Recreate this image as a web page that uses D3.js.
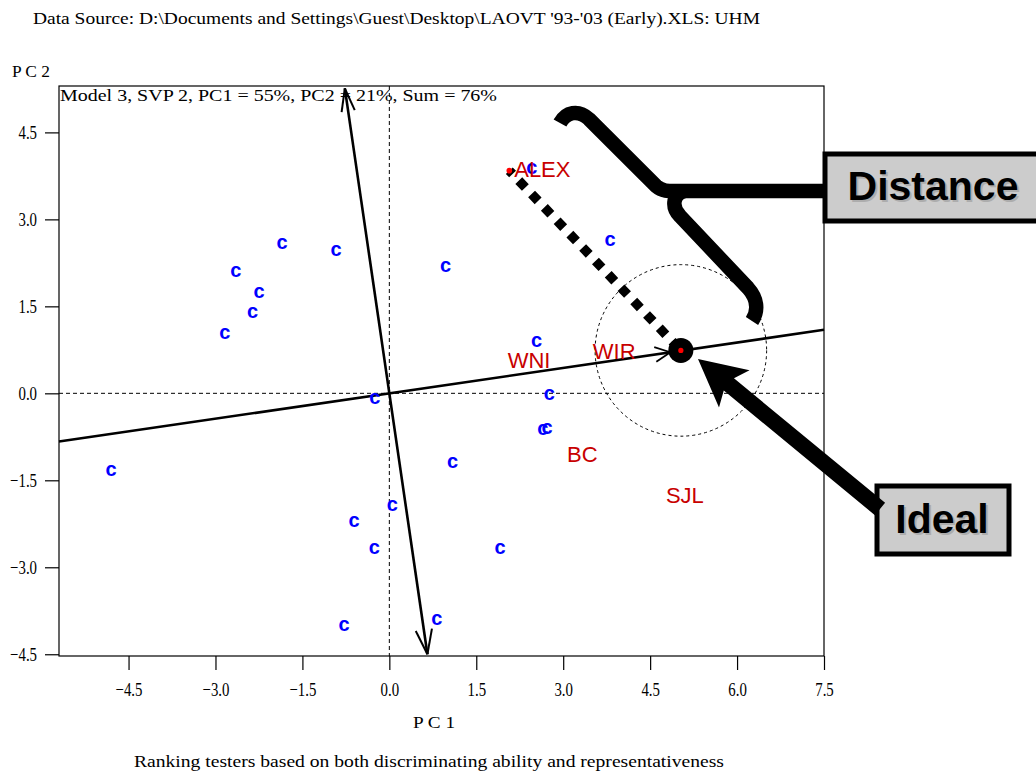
<!DOCTYPE html>
<html><head><meta charset="utf-8">
<script src="https://cdn.jsdelivr.net/npm/d3@7"></script>
<style>body{margin:0;background:#fff} svg{display:block}</style>
</head><body>
<svg id="chart" width="1036" height="774"></svg>
<script>
// ---------- data ----------
const xTicks = [-4.5, -3.0, -1.5, 0.0, 1.5, 3.0, 4.5, 6.0, 7.5];
const yTicks = [-4.5, -3.0, -1.5, 0.0, 1.5, 3.0, 4.5];
const cultivarX = [-1.85, -0.92, -2.65, -2.25, -2.36, -2.84, -0.25, 2.46, 3.81, 0.97, 2.54, 2.76, 2.65, 2.72, -4.80, 0.05, -0.61, -0.26, -0.78, 0.82, 1.09, 1.91];
const cultivarY = [2.59, 2.46, 2.10, 1.74, 1.40, 1.03, -0.09, 3.88, 2.64, 2.18, 0.89, -0.03, -0.63, -0.60, -1.33, -1.93, -2.21, -2.67, -4.01, -3.91, -1.20, -2.67];
const testerNames = ["ALEX", "WNI", "WIR", "BC", "SJL"];
const testerX = [2.64, 2.41, 3.88, 3.33, 5.10];
const testerY = [3.87, 0.57, 0.72, -1.05, -1.75];
const alexPoint = [2.07, 3.84];
const idealPoint = [5.03, 0.74];
const aecSlope = 0.146;          // average-environment axis slope (PC2/PC1)
const aecArrowX = 4.85;          // tip of AEC arrow (PC1)
const perpTopY = 5.26, perpBottomY = -4.5;
const circleRadius = 1.48;
const titleText = "Data Source: D:\\Documents and Settings\\Guest\\Desktop\\LAOVT '93-'03 (Early).XLS: UHM";
const modelText = "Model 3, SVP 2, PC1 = 55%, PC2 = 21%, Sum = 76%";
const captionText = "Ranking testers based on both discriminating ability and representativeness";
const xLabel = "P C 1", yLabel = "P C 2";

// ---------- layout ----------
const svg = d3.select("#chart");
const L = 59, R = 824, T = 86, B = 656;
const x = d3.scaleLinear().domain([-5.7, 7.5]).range([L, R]);
const y = d3.scaleLinear().domain([-4.53, 5.3]).range([B, T]);
const serif = "'Liberation Serif','Times New Roman',serif";
const sans = "'Liberation Sans',Arial,sans-serif";

function condense(sel, f) {
  sel.each(function () {
    const w = this.getComputedTextLength();
    this.setAttribute("textLength", w * f);
    this.setAttribute("lengthAdjust", "spacingAndGlyphs");
  });
}
function fitText(sel, w) {
  sel.attr("textLength", w).attr("lengthAdjust", "spacingAndGlyphs");
}

// title texts
svg.append("text").attr("x", 33).attr("y", 24).attr("font-family", serif).attr("font-size", 17)
  .text(titleText).call(fitText, 727);
svg.append("text").attr("x", 12).attr("y", 77).attr("font-family", serif).attr("font-size", 17)
  .text(yLabel).call(fitText, 38);
svg.append("text").attr("x", 434).attr("y", 728).attr("text-anchor", "middle").attr("font-family", serif).attr("font-size", 17)
  .text(xLabel).call(fitText, 42);
svg.append("text").attr("x", 429).attr("y", 767).attr("text-anchor", "middle").attr("font-family", serif).attr("font-size", 17)
  .text(captionText).call(fitText, 590);

// axes
const gx = svg.append("g").attr("transform", `translate(0,${B})`)
  .call(d3.axisBottom(x).tickValues(xTicks).tickFormat(d3.format(".1f")).tickSize(14).tickPadding(10));
const gy = svg.append("g").attr("transform", `translate(${L},0)`)
  .call(d3.axisLeft(y).tickValues(yTicks).tickFormat(d3.format(".1f")).tickSize(14).tickPadding(8));
[gx, gy].forEach(g => {
  g.select(".domain").remove();
  g.selectAll("line").attr("stroke", "#000").attr("stroke-width", 1.2);
  g.selectAll("text").attr("font-family", serif).attr("font-size", 19).attr("fill", "#000");
});
gx.selectAll("text").attr("dy", "0.85em");
gy.selectAll("text").attr("dy", "0.33em");
condense(gx.selectAll("text"), 0.78);
condense(gy.selectAll("text"), 0.78);

// frame
svg.append("rect").attr("x", L).attr("y", T).attr("width", R - L).attr("height", B - T)
  .attr("fill", "none").attr("stroke", "#000").attr("stroke-width", 1.2);

svg.append("text").attr("x", L + 1).attr("y", 101).attr("font-family", serif).attr("font-size", 17)
  .text(modelText).call(fitText, 437);

// dashed reference lines
svg.append("line").attr("x1", L).attr("x2", R).attr("y1", y(0)).attr("y2", y(0))
  .attr("stroke", "#000").attr("stroke-width", 1).attr("stroke-dasharray", "4,3");
svg.append("line").attr("x1", x(0)).attr("x2", x(0)).attr("y1", T).attr("y2", B)
  .attr("stroke", "#000").attr("stroke-width", 1).attr("stroke-dasharray", "4,3");

// concentric circle around ideal
svg.append("circle").attr("cx", x(idealPoint[0])).attr("cy", y(idealPoint[1]))
  .attr("r", x(idealPoint[0] + circleRadius) - x(idealPoint[0]))
  .attr("fill", "none").attr("stroke", "#000").attr("stroke-width", 1).attr("stroke-dasharray", "3,3");

// AEC abscissa
const x0 = x.domain()[0], x1 = x.domain()[1];
svg.append("line").attr("x1", x(x0)).attr("y1", y(x0 * aecSlope)).attr("x2", x(x1)).attr("y2", y(x1 * aecSlope))
  .attr("stroke", "#000").attr("stroke-width", 2.6);
// AEC ordinate
svg.append("line").attr("x1", x(-aecSlope * perpTopY)).attr("y1", y(perpTopY))
  .attr("x2", x(-aecSlope * perpBottomY)).attr("y2", y(perpBottomY))
  .attr("stroke", "#000").attr("stroke-width", 2.6);

function arrowHead(tip, from, len, ang, sw) {
  const dx = tip[0] - from[0], dy = tip[1] - from[1];
  const d = Math.hypot(dx, dy), ux = dx / d, uy = dy / d;
  [ang, -ang].forEach(a => {
    const c = Math.cos(a), s = Math.sin(a);
    const bx = -(ux * c - uy * s), by = -(ux * s + uy * c);
    svg.append("line").attr("x1", tip[0]).attr("y1", tip[1])
      .attr("x2", tip[0] + bx * len).attr("y2", tip[1] + by * len)
      .attr("stroke", "#000").attr("stroke-width", sw);
  });
}
const origin = [x(0), y(0)];
arrowHead([x(-aecSlope * perpTopY), y(perpTopY)], origin, 24, 0.28, 2);
arrowHead([x(-aecSlope * perpBottomY), y(perpBottomY)], origin, 26, 0.32, 2);
arrowHead([x(aecArrowX), y(aecArrowX * aecSlope)], origin, 17, 0.45, 1.8);

// cultivars
svg.append("g").selectAll("text").data(cultivarX.map((v, i) => [v, cultivarY[i]])).join("text")
  .attr("x", d => x(d[0])).attr("y", d => y(d[1])).attr("dy", "0.27em")
  .attr("text-anchor", "middle").attr("font-family", sans).attr("font-weight", "bold")
  .attr("font-size", 20).attr("fill", "#0000ff").text("c");

// testers
svg.append("g").selectAll("text").data(testerNames.map((n, i) => ({ n, x: testerX[i], y: testerY[i] }))).join("text")
  .attr("x", d => x(d.x)).attr("y", d => y(d.y)).attr("dy", "0.36em")
  .attr("text-anchor", "middle").attr("font-family", sans).attr("font-size", 22)
  .attr("fill", "#c80000").text(d => d.n);

// distance line (ALEX -> ideal)
svg.append("line").attr("x1", x(alexPoint[0])).attr("y1", y(alexPoint[1]))
  .attr("x2", x(idealPoint[0])).attr("y2", y(idealPoint[1]))
  .attr("stroke", "#000").attr("stroke-width", 9.5).attr("stroke-dasharray", "9.5,9")
  .attr("stroke-dashoffset", 4.75);
svg.append("circle").attr("cx", x(alexPoint[0])).attr("cy", y(alexPoint[1])).attr("r", 2.8).attr("fill", "#ff0000");

// ideal point
svg.append("circle").attr("cx", x(idealPoint[0])).attr("cy", y(idealPoint[1])).attr("r", 12.5).attr("fill", "#000");
svg.append("circle").attr("cx", x(idealPoint[0])).attr("cy", y(idealPoint[1])).attr("r", 2.6).attr("fill", "#ff0000");

// ---------- annotations ----------
const ann = svg.append("g");
ann.append("path")
  .attr("d", "M560,123 C566,112 578,109 589,119 L656,186 C663,192 670,191 681,191 L826,191 M685,191 C673,193 671,207 680,216 L748,288 C757,298 759,310 752,321")
  .attr("fill", "none").attr("stroke", "#000").attr("stroke-width", 14.5);
ann.append("rect").attr("x", 825).attr("y", 154).attr("width", 260).attr("height", 67)
  .attr("fill", "#cccccc").attr("stroke", "#000").attr("stroke-width", 5);
ann.append("rect").attr("x", 877).attr("y", 486).attr("width", 132).attr("height", 68)
  .attr("fill", "#cccccc").attr("stroke", "#000").attr("stroke-width", 5);

function label(t, cx, by) {
  ann.append("text").attr("x", cx + 2).attr("y", by + 2).attr("text-anchor", "middle")
    .attr("font-family", sans).attr("font-weight", "bold").attr("font-size", 41).attr("fill", "#999").attr("opacity", 0.6).text(t);
  ann.append("text").attr("x", cx).attr("y", by).attr("text-anchor", "middle")
    .attr("font-family", sans).attr("font-weight", "bold").attr("font-size", 41).attr("fill", "#000").text(t);
}
label("Distance", 933, 200);
label("Ideal", 942, 533);

// big arrow pointing to ideal
(function () {
  const tip = [698, 359], tail = [880, 509];
  const dx = tail[0] - tip[0], dy = tail[1] - tip[1], d = Math.hypot(dx, dy);
  const u = [dx / d, dy / d], n = [-u[1], u[0]];
  const hl = 47, hw = 24, sw = 8, join = 40;
  const P = (a, b) => [tip[0] + u[0] * a + n[0] * b, tip[1] + u[1] * a + n[1] * b];
  const pts = [tip, P(hl, hw), P(join, sw), P(d, sw), P(d, -sw), P(join, -sw), P(hl, -hw)];
  ann.append("polygon").attr("points", pts.map(p => p.join(",")).join(" ")).attr("fill", "#000");
})();
</script>
</body></html>
